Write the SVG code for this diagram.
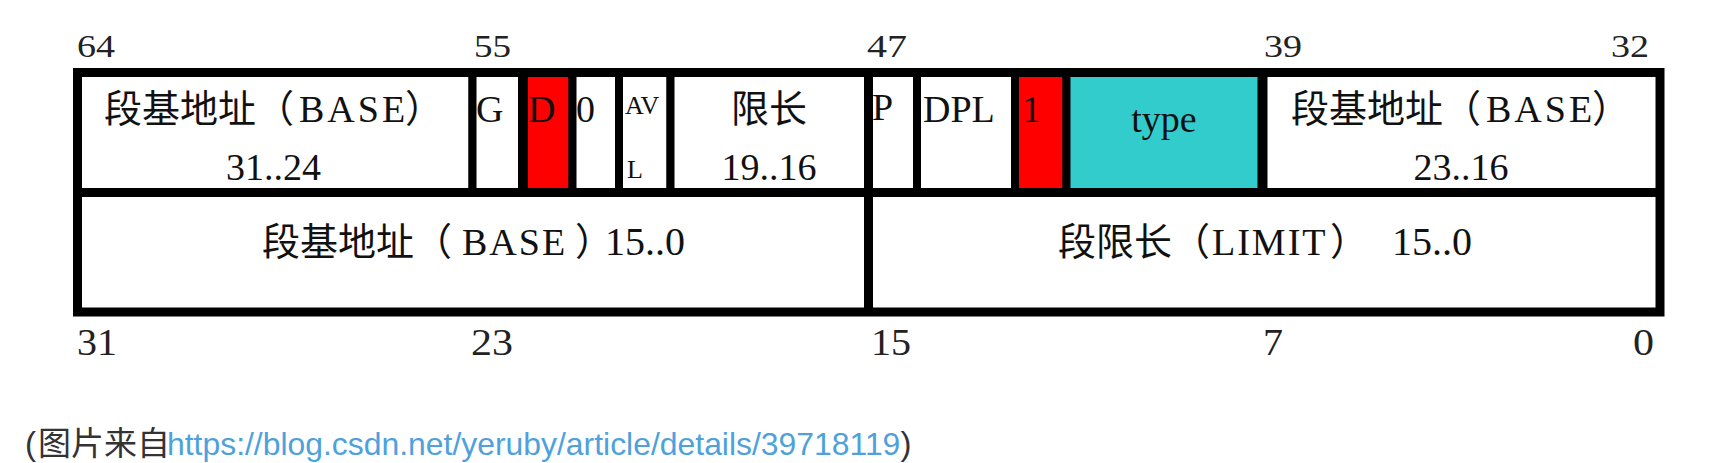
<svg xmlns="http://www.w3.org/2000/svg" width="1712" height="463" viewBox="0 0 1712 463">
<style>
.cell{stroke:#000;stroke-width:8;fill:#fff}
.red{fill:#ff0000}
.cyan{fill:#33cccc}
.t{font-family:"Liberation Serif","Noto Sans CJK SC",serif;font-size:38px;fill:#111}
.s{font-family:"Liberation Serif","Noto Sans CJK SC",serif;font-size:26px;fill:#111}
.top{font-family:"Liberation Serif",serif;font-size:32px;fill:#222}
.bot{font-family:"Liberation Serif",serif;font-size:38px;fill:#222}
.foot{font-family:"Liberation Sans","Noto Sans CJK SC",sans-serif;font-size:33px;fill:#333}
.link{fill:#4ea1db;font-size:31.9px}
.big{font-size:40px}
</style>
<rect width="1712" height="463" fill="#fff"/>
<g id="bits-top">
<text class="top" x="77" y="57" textLength="38" lengthAdjust="spacingAndGlyphs">64</text>
<text class="top" x="474" y="57" textLength="37" lengthAdjust="spacingAndGlyphs">55</text>
<text class="top" x="867" y="57" textLength="40" lengthAdjust="spacingAndGlyphs">47</text>
<text class="top" x="1264" y="57" textLength="38" lengthAdjust="spacingAndGlyphs">39</text>
<text class="top" x="1611" y="57" textLength="38" lengthAdjust="spacingAndGlyphs">32</text>
</g>
<g id="base-31-24">
<rect class="cell" x="77.5" y="72.5" width="395" height="120"/>
<text class="t" y="122"><tspan x="104">段基地址（</tspan><tspan x="299" letter-spacing="3">BASE</tspan><tspan x="405">）</tspan></text>
<text class="t" x="226" y="180">31..24</text>
</g>
<g id="g-bit">
<rect class="cell" x="472.5" y="72.5" width="50.5" height="120"/>
<text class="t" x="476" y="122">G</text>
</g>
<g id="d-bit">
<rect class="cell red" x="523" y="72.5" width="49.5" height="120"/>
<text class="t" x="528" y="122">D</text>
</g>
<g id="zero-bit">
<rect class="cell" x="572.5" y="72.5" width="46.5" height="120"/>
<text class="t" x="576" y="122">0</text>
</g>
<g id="avl-bit">
<rect class="cell" x="619" y="72.5" width="51.5" height="120"/>
<text class="s" x="625" y="114">AV</text>
<text class="s" x="627" y="178">L</text>
</g>
<g id="limit-19-16">
<rect class="cell" x="670.5" y="72.5" width="197.5" height="120"/>
<text class="t" x="769" y="122" text-anchor="middle">限长</text>
<text class="t" x="769" y="180" text-anchor="middle">19..16</text>
</g>
<g id="p-bit">
<rect class="cell" x="868" y="72.5" width="49" height="120"/>
<text class="t" x="872" y="120">P</text>
</g>
<g id="dpl">
<rect class="cell" x="917" y="72.5" width="98" height="120"/>
<text class="t" x="923" y="122">DPL</text>
</g>
<g id="s-bit">
<rect class="cell red" x="1015" y="72.5" width="51.5" height="120"/>
<text class="t" x="1022" y="122">1</text>
</g>
<g id="type">
<rect class="cell cyan" x="1066.5" y="72.5" width="196" height="120"/>
<text class="t" x="1164" y="132" text-anchor="middle">type</text>
</g>
<g id="base-23-16">
<rect class="cell" x="1262.5" y="72.5" width="397.5" height="120"/>
<text class="t" y="122"><tspan x="1291">段基地址（</tspan><tspan x="1486" letter-spacing="3">BASE</tspan><tspan x="1592">）</tspan></text>
<text class="t" x="1461" y="180" text-anchor="middle">23..16</text>
</g>
<g id="base-15-0">
<rect class="cell" x="77.5" y="192.5" width="791" height="119.5"/>
<text class="t" y="255"><tspan x="262">段基地址（</tspan><tspan x="462" letter-spacing="2">BASE</tspan><tspan x="575"><tspan letter-spacing="-8">）</tspan><tspan class="big">15..0</tspan></tspan></text>
</g>
<g id="limit-15-0">
<rect class="cell" x="868.5" y="192.5" width="791.5" height="119.5"/>
<text class="t" y="255"><tspan x="1058">段限长（</tspan><tspan x="1212" letter-spacing="2">LIMIT</tspan><tspan x="1330">）</tspan><tspan class="big" x="1392">15..0</tspan></text>
</g>
<g id="connectors">
<rect x="77.5" y="72.5" width="1582.5" height="239.5" fill="none" stroke="#000" stroke-width="9"/>
<line x1="77.5" y1="192.5" x2="1660" y2="192.5" stroke="#000" stroke-width="9"/>
<line x1="868.5" y1="72.5" x2="868.5" y2="312" stroke="#000" stroke-width="9"/>
<line x1="523" y1="72.5" x2="523" y2="192.5" stroke="#000" stroke-width="10"/>
<line x1="1262.5" y1="72.5" x2="1262.5" y2="192.5" stroke="#000" stroke-width="10"/>
</g>
<g id="bits-bottom">
<text class="bot" x="77" y="355" textLength="40" lengthAdjust="spacingAndGlyphs">31</text>
<text class="bot" x="471" y="355" textLength="42" lengthAdjust="spacingAndGlyphs">23</text>
<text class="bot" x="871" y="355" textLength="40" lengthAdjust="spacingAndGlyphs">15</text>
<text class="bot" x="1263" y="355" textLength="20" lengthAdjust="spacingAndGlyphs">7</text>
<text class="bot" x="1633" y="355" textLength="21" lengthAdjust="spacingAndGlyphs">0</text>
</g>
<g id="caption">
<text class="foot" y="455"><tspan x="25">(</tspan><tspan x="38">图片来自</tspan><tspan x="167"><tspan class="link">https://blog.csdn.net/yeruby/article/details/39718119</tspan>)</tspan></text>
</g>
</svg>
